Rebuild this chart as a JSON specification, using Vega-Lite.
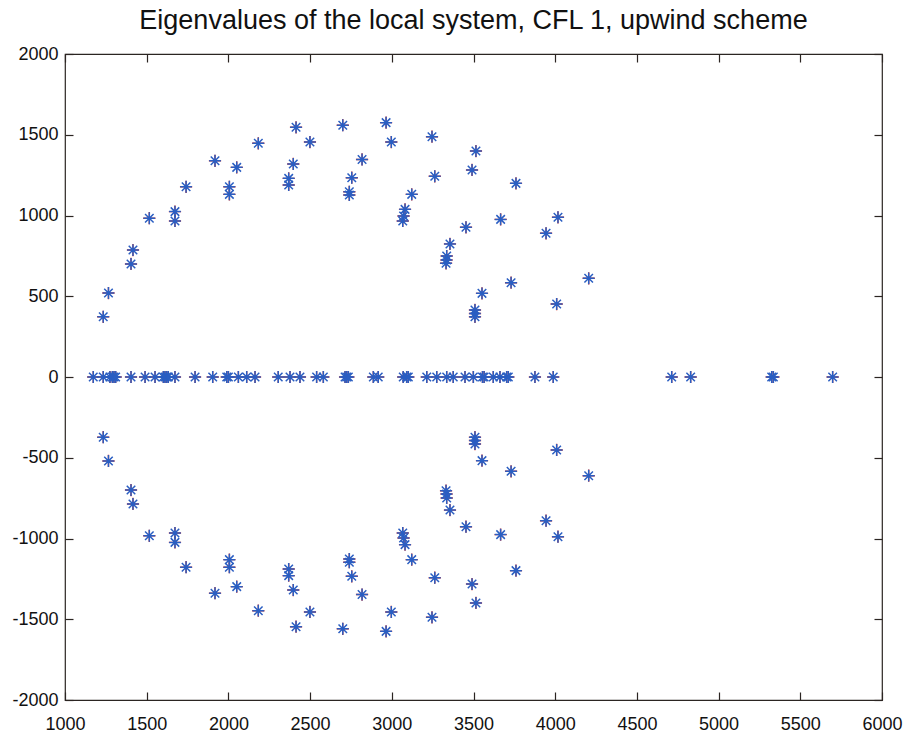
{
  "$schema": "https://vega.github.io/schema/vega-lite/v6.json",
  "width": 817,
  "height": 646,
  "autosize": {"type": "none"},
  "padding": {"left": 65, "top": 54, "right": 25, "bottom": 33},
  "background": "white",
  "title": {
    "text": "Eigenvalues of the local system, CFL 1, upwind scheme",
    "font": "Liberation Sans",
    "fontSize": 27,
    "fontWeight": "normal",
    "color": "#111111",
    "anchor": "middle",
    "frame": "group",
    "baseline": "alphabetic",
    "offset": -11
  },
  "config": {
    "view": {"stroke": "#2b2522", "strokeWidth": 1.2},
    "axis": {
      "domain": false,
      "grid": false,
      "labelFont": "Liberation Sans",
      "labelFontSize": 18,
      "labelColor": "#111111",
      "tickColor": "#2b2522",
      "tickSize": -8,
      "tickWidth": 1.2
    }
  },
  "datasets": {
    "eig": [
      {"re": 1173, "im": 0}, {"re": 1234, "im": 0}, {"re": 1275, "im": 0},
      {"re": 1290, "im": 0}, {"re": 1300, "im": 0}, {"re": 1310, "im": 0},
      {"re": 1404, "im": 0}, {"re": 1490, "im": 0}, {"re": 1551, "im": 0},
      {"re": 1602, "im": 0}, {"re": 1612, "im": 0}, {"re": 1622, "im": 0},
      {"re": 1632, "im": 0}, {"re": 1673, "im": 0}, {"re": 1796, "im": 0},
      {"re": 1904, "im": 0}, {"re": 1990, "im": 0}, {"re": 2000, "im": 0},
      {"re": 2061, "im": 0}, {"re": 2112, "im": 0}, {"re": 2163, "im": 0},
      {"re": 2305, "im": 0}, {"re": 2377, "im": 0}, {"re": 2438, "im": 0},
      {"re": 2540, "im": 0}, {"re": 2581, "im": 0}, {"re": 2714, "im": 0},
      {"re": 2724, "im": 0}, {"re": 2734, "im": 0}, {"re": 2887, "im": 0},
      {"re": 2917, "im": 0}, {"re": 3070, "im": 0}, {"re": 3091, "im": 0},
      {"re": 3101, "im": 0}, {"re": 3214, "im": 0}, {"re": 3275, "im": 0},
      {"re": 3336, "im": 0}, {"re": 3376, "im": 0}, {"re": 3448, "im": 0},
      {"re": 3499, "im": 0}, {"re": 3555, "im": 0}, {"re": 3565, "im": 0},
      {"re": 3621, "im": 0}, {"re": 3662, "im": 0}, {"re": 3703, "im": 0},
      {"re": 3713, "im": 0}, {"re": 3876, "im": 0}, {"re": 3988, "im": 0},
      {"re": 4713, "im": 0}, {"re": 4829, "im": 0}, {"re": 5325, "im": 0},
      {"re": 5335, "im": 0}, {"re": 5698, "im": 0},

      {"re": 1234, "im": 373}, {"re": 1266, "im": 520}, {"re": 1404, "im": 700},
      {"re": 1416, "im": 786}, {"re": 1516, "im": 983}, {"re": 1673, "im": 1024},
      {"re": 1673, "im": 966}, {"re": 1741, "im": 1178}, {"re": 1918, "im": 1339},
      {"re": 2006, "im": 1178}, {"re": 2006, "im": 1131}, {"re": 2051, "im": 1298},
      {"re": 2183, "im": 1447}, {"re": 2369, "im": 1230}, {"re": 2369, "im": 1189},
      {"re": 2397, "im": 1319}, {"re": 2414, "im": 1546}, {"re": 2499, "im": 1455},
      {"re": 2700, "im": 1559}, {"re": 2755, "im": 1234}, {"re": 2740, "im": 1147},
      {"re": 2740, "im": 1127}, {"re": 2818, "im": 1347}, {"re": 2965, "im": 1575},
      {"re": 2997, "im": 1455}, {"re": 3246, "im": 1488}, {"re": 3515, "im": 1399},
      {"re": 3491, "im": 1282}, {"re": 3263, "im": 1243}, {"re": 3122, "im": 1131},
      {"re": 3081, "im": 1038}, {"re": 3072, "im": 997}, {"re": 3067, "im": 966},
      {"re": 3760, "im": 1199}, {"re": 3454, "im": 927}, {"re": 3666, "im": 976},
      {"re": 4017, "im": 989}, {"re": 3944, "im": 890}, {"re": 3356, "im": 824},
      {"re": 3336, "im": 749}, {"re": 3335, "im": 724}, {"re": 3332, "im": 704},
      {"re": 3730, "im": 584}, {"re": 4205, "im": 611}, {"re": 3552, "im": 518},
      {"re": 4009, "im": 452}, {"re": 3509, "im": 415}, {"re": 3509, "im": 393},
      {"re": 3509, "im": 373},

      {"re": 1234, "im": -373}, {"re": 1266, "im": -520}, {"re": 1404, "im": -700},
      {"re": 1416, "im": -786}, {"re": 1516, "im": -983}, {"re": 1673, "im": -1024},
      {"re": 1673, "im": -966}, {"re": 1741, "im": -1178}, {"re": 1918, "im": -1339},
      {"re": 2006, "im": -1178}, {"re": 2006, "im": -1131}, {"re": 2051, "im": -1298},
      {"re": 2183, "im": -1447}, {"re": 2369, "im": -1230}, {"re": 2369, "im": -1189},
      {"re": 2397, "im": -1319}, {"re": 2414, "im": -1546}, {"re": 2499, "im": -1455},
      {"re": 2700, "im": -1559}, {"re": 2755, "im": -1234}, {"re": 2740, "im": -1147},
      {"re": 2740, "im": -1127}, {"re": 2818, "im": -1347}, {"re": 2965, "im": -1575},
      {"re": 2997, "im": -1455}, {"re": 3246, "im": -1488}, {"re": 3515, "im": -1399},
      {"re": 3491, "im": -1282}, {"re": 3263, "im": -1243}, {"re": 3122, "im": -1131},
      {"re": 3081, "im": -1038}, {"re": 3072, "im": -997}, {"re": 3067, "im": -966},
      {"re": 3760, "im": -1199}, {"re": 3454, "im": -927}, {"re": 3666, "im": -976},
      {"re": 4017, "im": -989}, {"re": 3944, "im": -890}, {"re": 3356, "im": -824},
      {"re": 3336, "im": -749}, {"re": 3335, "im": -724}, {"re": 3332, "im": -704},
      {"re": 3730, "im": -584}, {"re": 4205, "im": -611}, {"re": 3552, "im": -518},
      {"re": 4009, "im": -452}, {"re": 3509, "im": -415}, {"re": 3509, "im": -393},
      {"re": 3509, "im": -373}
    ]
  },
  "data": {"name": "eig"},
  "resolve": {"axis": {"x": "independent", "y": "independent"}},
  "layer": [
    {
      "mark": {
        "type": "point",
        "shape": "M-1,0L1,0M0,-1L0,1",
        "filled": false,
        "size": 150,
        "stroke": "#e0301e",
        "strokeWidth": 1.4,
        "opacity": 1
      },
      "encoding": {
        "x": {
          "field": "re", "type": "quantitative",
          "scale": {"domain": [1000, 6000], "nice": false, "zero": false},
          "axis": {
            "orient": "bottom", "title": null,
            "values": [1000, 1500, 2000, 2500, 3000, 3500, 4000, 4500, 5000, 5500, 6000],
            "labelExpr": "'' + datum.value",
            "labelBaseline": "top", "labelPadding": 23,
            "labelFlush": false, "labelOverlap": false
          }
        },
        "y": {
          "field": "im", "type": "quantitative",
          "scale": {"domain": [-2000, 2000], "nice": false, "zero": false},
          "axis": {
            "orient": "left", "title": null,
            "values": [-2000, -1500, -1000, -500, 0, 500, 1000, 1500, 2000],
            "labelExpr": "'' + datum.value",
            "labelPadding": 15,
            "labelFlush": false, "labelOverlap": false
          }
        }
      }
    },
    {
      "mark": {
        "type": "point",
        "shape": "M-1,0L1,0M0,-1L0,1M-0.72,-0.72L0.72,0.72M-0.72,0.72L0.72,-0.72",
        "filled": false,
        "size": 140,
        "stroke": "#2a5ec2",
        "strokeWidth": 1.5,
        "opacity": 1
      },
      "encoding": {
        "x": {
          "field": "re", "type": "quantitative",
          "scale": {"domain": [1000, 6000], "nice": false, "zero": false},
          "axis": {
            "orient": "top", "title": null, "labels": false,
            "values": [1000, 1500, 2000, 2500, 3000, 3500, 4000, 4500, 5000, 5500, 6000]
          }
        },
        "y": {
          "field": "im", "type": "quantitative",
          "scale": {"domain": [-2000, 2000], "nice": false, "zero": false},
          "axis": {
            "orient": "right", "title": null, "labels": false,
            "values": [-2000, -1500, -1000, -500, 0, 500, 1000, 1500, 2000]
          }
        }
      }
    }
  ]
}
